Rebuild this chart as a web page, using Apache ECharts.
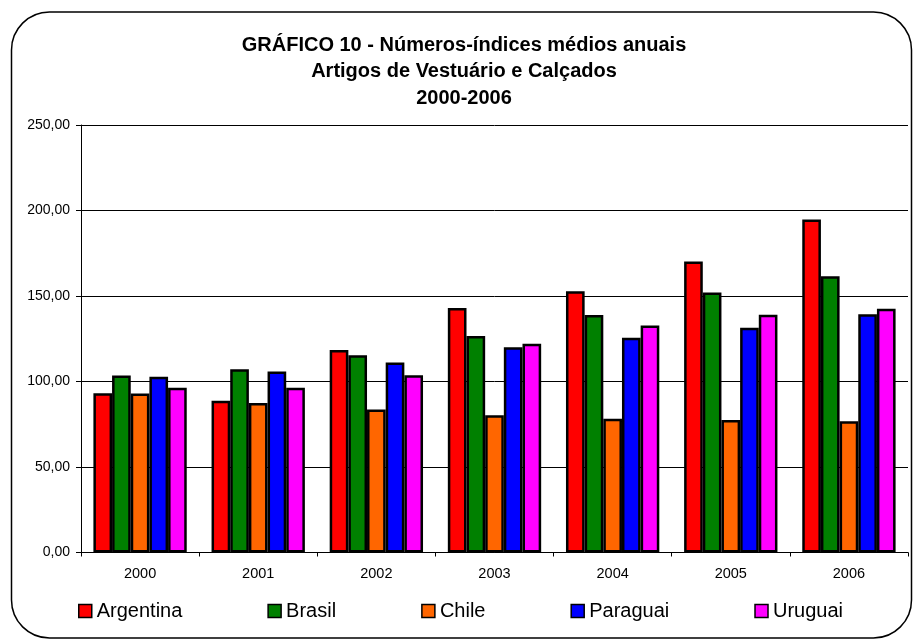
<!DOCTYPE html>
<html>
<head>
<meta charset="utf-8">
<script src="https://cdn.jsdelivr.net/npm/echarts@6/dist/echarts.min.js"></script>
<style>
  html, body { margin: 0; padding: 0; background: #fff; }
  #chart { width: 914px; height: 641px; }
</style>
</head>
<body>
<div id="chart"></div>
<script>
// anos e séries (números-índices médios anuais)
const anos = ['2000', '2001', '2002', '2003', '2004', '2005', '2006']
const argentina = [93.1, 88.8, 118.4, 143.0, 152.8, 170.2, 194.8]
const brasil = [103.5, 107.2, 115.4, 126.6, 138.9, 152.0, 161.6]
const chile = [93.0, 87.4, 83.6, 80.2, 78.2, 77.5, 76.8]
const paraguai = [102.8, 105.8, 111.1, 120.1, 125.6, 131.5, 139.3]
const uruguai = [96.4, 96.4, 103.7, 122.1, 132.8, 139.1, 142.5]

const paises = [
  { name: 'Argentina', data: argentina, color: '#ff0000' },
  { name: 'Brasil', data: brasil, color: '#008000' },
  { name: 'Chile', data: chile, color: '#ff6600' },
  { name: 'Paraguai', data: paraguai, color: '#0000ff' },
  { name: 'Uruguai', data: uruguai, color: '#ff00ff' }
]

const fonte = 'Arial, "Liberation Sans", sans-serif'

let myChart = echarts.init(document.getElementById('chart'))
myChart.setOption({
  backgroundColor: '#fff',
  animation: false,
  textStyle: { fontFamily: fonte, color: '#000' },
  title: {
    text: 'GRÁFICO 10 - Números-índices médios anuais\nArtigos de Vestuário e Calçados\n2000-2006',
    left: 459,
    textAlign: 'center',
    top: 27,
    textStyle: { fontSize: 20, fontWeight: 'bold', lineHeight: 26.5, color: '#000', fontFamily: fonte }
  },
  graphic: [{
    type: 'rect',
    shape: { x: 11.5, y: 12, width: 900, height: 626, r: 38 },
    style: { fill: 'none', stroke: '#000', lineWidth: 1.5 },
    silent: true,
    z: -1
  }],
  legend: {
    left: 78,
    top: 601,
    padding: 0,
    itemWidth: 13,
    itemHeight: 13,
    itemGap: 85,
    icon: 'rect',
    textStyle: { fontSize: 20, color: '#000', fontFamily: fonte },
    itemStyle: { borderColor: '#000', borderWidth: 1.5 },
    data: paises.map(p => p.name)
  },
  grid: {
    left: 81,
    right: 6,
    top: 125,
    bottom: 88.5
  },
  xAxis: {
    type: 'category',
    data: anos,
    axisLine: { lineStyle: { color: '#000', width: 1 } },
    axisTick: { show: true, alignWithLabel: false, length: 4, lineStyle: { color: '#000' } },
    axisLabel: { fontSize: 14.5, color: '#000', margin: 14, fontFamily: fonte }
  },
  yAxis: {
    type: 'value',
    min: 0,
    max: 250,
    interval: 50,
    axisLine: { show: true, lineStyle: { color: '#000', width: 1 } },
    axisTick: { show: true, length: 5, lineStyle: { color: '#000' } },
    splitLine: { show: true, lineStyle: { color: '#000', width: 1 } },
    axisLabel: {
      fontSize: 14,
      color: '#000',
      margin: 11,
      fontFamily: fonte,
      formatter: v => v.toFixed(2).replace('.', ',')
    }
  },
  series: paises.map(p => ({
    name: p.name,
    type: 'bar',
    data: p.data,
    barGap: '0%',
    barCategoryGap: '21%',
    itemStyle: { color: p.color, borderColor: '#000', borderWidth: 2.5 }
  }))
})
</script>
</body>
</html>
